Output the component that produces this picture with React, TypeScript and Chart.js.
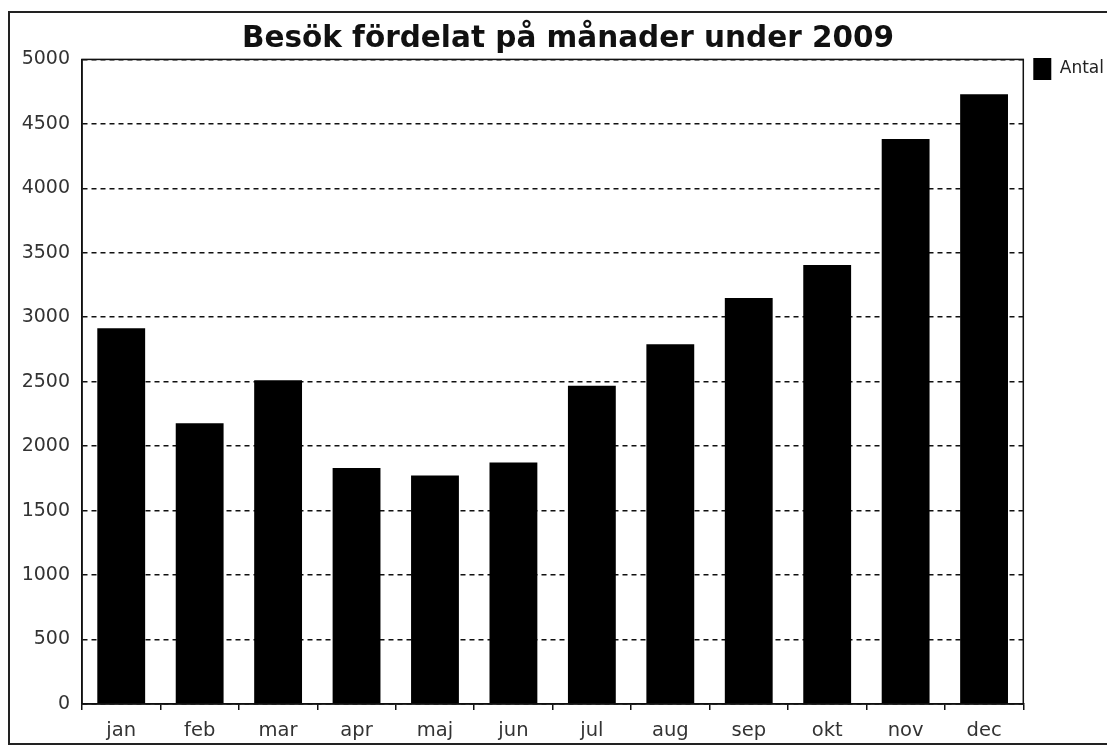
import React, { useEffect, useRef } from "react";
import { Chart, registerables } from "chart.js";

Chart.register(...registerables);

const chartTitle = "Besök fördelat på månader under 2009";
const seriesLabel = "Antal";
const months = ["jan", "feb", "mar", "apr", "maj", "jun", "jul", "aug", "sep", "okt", "nov", "dec"];
const visits = [2915, 2178, 2512, 1830, 1773, 1874, 2468, 2790, 3150, 3405, 4383, 4730];
const yMin = 0;
const yMax = 5000;
const yStep = 500;

const FONT = "'DejaVu Sans', Verdana, sans-serif";
const CANVAS_W = 1114;

const framePlugin = {
  id: "framePlugin",
  beforeDraw(chart: any) {
    const ctx = chart.ctx;
    ctx.save();
    ctx.fillStyle = "#ffffff";
    ctx.fillRect(0, 0, chart.width, chart.height);
    ctx.restore();
  },
  afterDraw(chart: any) {
    const ctx = chart.ctx;
    const a = chart.chartArea;
    ctx.save();
    ctx.strokeStyle = "#111";
    ctx.lineWidth = 1.5;
    ctx.strokeRect(a.left, a.top, a.right - a.left, a.bottom - a.top);
    ctx.lineWidth = 2;
    ctx.strokeStyle = "#222";
    ctx.strokeRect(9, 12, chart.width + 20, 732);
    ctx.restore();
  },
};

export default function App() {
  const ref = useRef<HTMLCanvasElement>(null);
  useEffect(() => {
    if (!ref.current) return;
    const chart = new Chart(ref.current, {
      type: "bar",
      data: {
        labels: months,
        datasets: [
          {
            label: seriesLabel,
            data: visits,
            backgroundColor: "#000000",
            borderWidth: 0,
            categoryPercentage: 1,
            barPercentage: 0.61,
          },
        ],
      },
      options: {
        animation: false,
        responsive: false,
        maintainAspectRatio: false,
        layout: { padding: { left: 22, right: 0, top: 0, bottom: 0 } },
        plugins: {
          title: {
            display: true,
            text: chartTitle,
            color: "#111",
            font: { family: FONT, size: 29.5, weight: "bold" },
            padding: { top: 22, bottom: 2 },
          },
          legend: {
            display: true,
            position: "right",
            align: "start",
            title: {
              display: true,
              text: " ",
              font: { family: FONT, size: 10 },
              padding: 18,
            },
            labels: {
              boxWidth: 18,
              boxHeight: 22,
              color: "#222",
              font: { family: FONT, size: 17 },
              padding: 10,
            },
          },
          tooltip: { enabled: false },
        },
        scales: {
          x: {
            grid: {
              offset: true,
              drawOnChartArea: false,
              drawTicks: true,
              tickLength: 6,
              color: "#111",
              lineWidth: 1.5,
            },
            border: { display: true, color: "#111", width: 1.5 },
            ticks: {
              color: "#333",
              font: { family: FONT, size: 19.5 },
              padding: 9,
            },
            afterFit(scale: any) {
              scale.height = 42;
            },
          },
          y: {
            min: yMin,
            max: yMax,
            ticks: {
              stepSize: yStep,
              color: "#333",
              font: { family: FONT, size: 19 },
              padding: 12,
              callback: (v: any) => String(v),
            },
            grid: {
              drawTicks: false,
              color: "#111",
              lineWidth: 1.6,
            },
            border: { display: true, color: "#111", width: 1.5, dash: [5, 4] },
            afterFit(scale: any) {
              scale.width = 60;
            },
          },
        },
      },
      plugins: [framePlugin],
    });
    return () => chart.destroy();
  }, []);
  return (
    <div style={{ position: "fixed", left: 0, top: 0, width: 1107, height: 746, overflow: "hidden", background: "#fff" }}>
      <canvas ref={ref} width={CANVAS_W} height={746} style={{ width: CANVAS_W, height: 746, display: "block" }} />
    </div>
  );
}
